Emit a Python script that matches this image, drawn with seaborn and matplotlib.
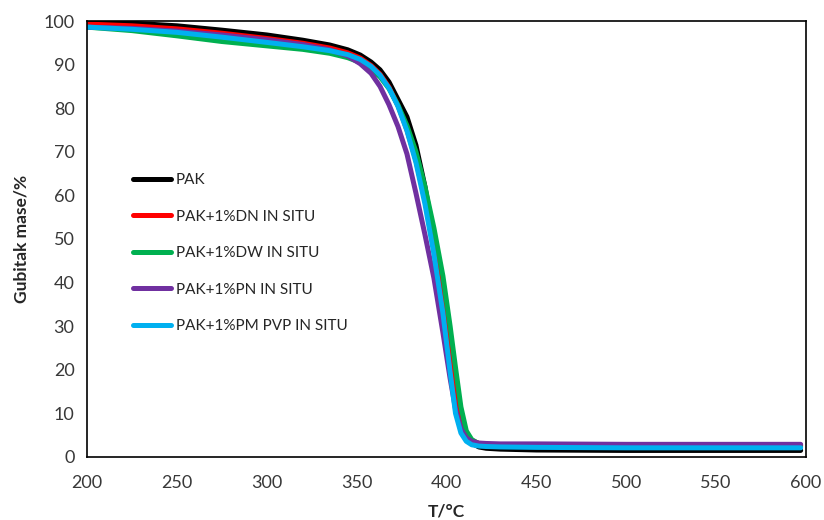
import pandas as pd
import matplotlib
matplotlib.use("Agg")
import matplotlib.pyplot as plt
import seaborn as sns

# temperature grid (°C)
temp = [200, 225, 250, 275, 300, 320, 335, 345, 352, 358, 363, 368, 373, 378, 383,
        388, 393, 398, 402, 405, 408, 411, 414, 418, 422, 430, 450, 500, 550, 597]

# mass loss curves (%)
pak = [99.8, 99.5, 98.9, 97.9, 96.8, 95.6, 94.5, 93.4, 92.2, 90.6, 88.8, 86.0, 82.0, 78.0, 71.5,
       62.0, 50.5, 37.0, 25.0, 16.0, 9.0, 5.0, 3.2, 2.3, 2.0, 1.8, 1.6, 1.5, 1.5, 1.5]
dn = [99.3, 98.9, 98.2, 97.2, 96.0, 94.9, 93.8, 92.7, 91.5, 89.8, 87.8, 84.8, 80.6, 75.0, 68.0,
      59.0, 48.5, 37.0, 26.0, 17.0, 9.5, 5.3, 3.8, 3.1, 2.9, 2.8, 2.8, 2.7, 2.7, 2.7]
dw = [98.6, 97.8, 96.6, 95.3, 94.3, 93.5, 92.6, 91.6, 90.5, 89.0, 87.2, 84.5, 80.7, 76.0, 70.0,
      62.0, 52.5, 41.5, 30.0, 20.5, 11.5, 6.0, 4.0, 3.0, 2.8, 2.7, 2.6, 2.6, 2.5, 2.5]
pn = [98.6, 98.3, 97.7, 96.8, 95.7, 94.6, 93.4, 92.0, 90.2, 88.0, 85.0, 80.8, 75.8, 69.5, 60.5,
      51.0, 41.0, 28.5, 18.0, 11.0, 6.5, 4.4, 3.6, 3.2, 3.1, 3.0, 3.0, 2.9, 2.9, 2.9]
pvp = [98.6, 98.1, 97.4, 96.3, 95.1, 94.1, 93.2, 92.3, 91.2, 89.6, 87.6, 84.6, 80.4, 74.8, 67.5,
       58.0, 46.5, 33.0, 19.5, 10.0, 5.5, 3.6, 2.8, 2.5, 2.4, 2.3, 2.2, 2.1, 2.1, 2.1]

labels = ["PAK", "PAK+1%DN IN SITU", "PAK+1%DW IN SITU", "PAK+1%PN IN SITU",
          "PAK+1%PM PVP IN SITU"]
colors = ["#000000", "#FF0000", "#00B050", "#7030A0", "#00B0F0"]

x_ticks = [200, 250, 300, 350, 400, 450, 500, 550, 600]
y_ticks = [0, 10, 20, 30, 40, 50, 60, 70, 80, 90, 100]


def main():
    frames = []
    for name, values in zip(labels, [pak, dn, dw, pn, pvp]):
        frames.append(pd.DataFrame({"T": temp, "mass": values, "sample": name}))
    df = pd.concat(frames, ignore_index=True)

    sns.set_style("white")
    plt.rcParams["font.family"] = ["Lato", "DejaVu Sans"]

    fig = plt.figure(figsize=(8.24, 5.2), dpi=100)
    ax = fig.add_axes([0.1056, 0.1212, 0.8726, 0.8384])

    sns.lineplot(data=df, x="T", y="mass", hue="sample", hue_order=labels,
                 palette=colors, linewidth=3.6, ax=ax, sort=False)
    for line in ax.get_lines():
        line.set_solid_joinstyle("round")
        line.set_solid_capstyle("round")

    ax.set_xlim(200, 600)
    ax.set_ylim(0, 100)
    ax.set_xticks(x_ticks)
    ax.set_yticks(y_ticks)
    ax.tick_params(direction="in", length=5, width=1, labelsize=13,
                   colors="black", labelcolor="#383838", pad=9)
    ax.tick_params(axis="x", pad=13)
    for s in ax.spines.values():
        s.set_color("black")
        s.set_linewidth(1.2)

    ax.set_xlabel("T/°C", fontsize=12.5, fontweight="bold", labelpad=9)
    ax.set_ylabel("Gubitak mase/%", fontsize=12.5, fontweight="bold", labelpad=10)

    leg = ax.legend(loc="upper left", bbox_to_anchor=(0.045, 0.683), frameon=False,
                    fontsize=11, handlelength=2.5, handletextpad=0.3,
                    labelspacing=1.48)
    for line in leg.get_lines():
        line.set_linewidth(3.6)
        line.set_solid_capstyle("round")

    fig.savefig("out.png", dpi=100)


if __name__ == "__main__":
    main()
